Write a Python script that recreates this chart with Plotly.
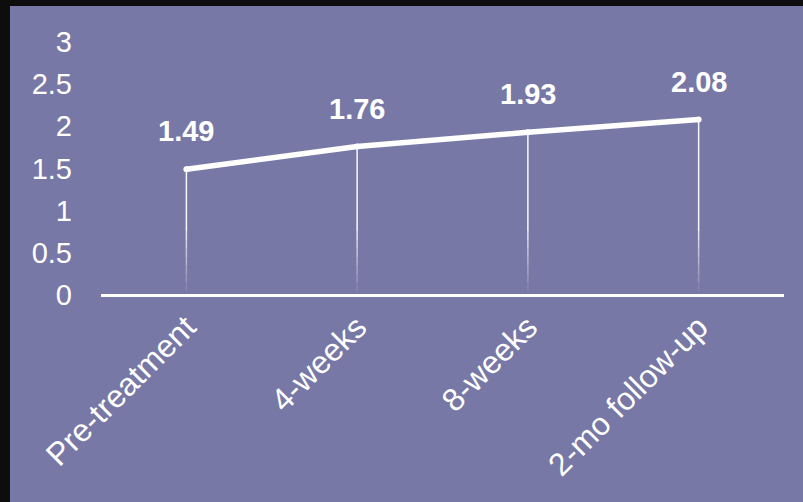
import plotly.graph_objects as go

# Mean score at each assessment point
timepoints = ["Pre-treatment", "4-weeks", "8-weeks", "2-mo follow-up"]
scores = [1.49, 1.76, 1.93, 2.08]
y_ticks = [0, 0.5, 1, 1.5, 2, 2.5, 3]
y_tick_text = ["0", "0.5", "1", "1.5", "2", "2.5", "3"]

BG = "#7878a6"
FONT = "Liberation Sans, Arial, sans-serif"

fig = go.Figure()

# Drop lines from each point to the axis, fading out near the bottom
solid_floor = 0.75
fade_steps = [0.75, 0.65, 0.55, 0.45, 0.35, 0.25, 0.15, 0.05]
xs, ys = [], []
for t, v in zip(timepoints, scores):
    xs += [t, t, None]
    ys += [v, solid_floor, None]
fig.add_trace(go.Scatter(x=xs, y=ys, mode="lines",
                         line=dict(color="rgba(255,255,255,0.95)", width=1.5),
                         hoverinfo="skip", showlegend=False))
for i in range(len(fade_steps) - 1):
    top, bot = fade_steps[i], fade_steps[i + 1]
    alpha = 0.9 * (1 - (i + 1) / len(fade_steps))
    xs, ys = [], []
    for t in timepoints:
        xs += [t, t, None]
        ys += [top, bot, None]
    fig.add_trace(go.Scatter(x=xs, y=ys, mode="lines",
                             line=dict(color=f"rgba(255,255,255,{alpha:.2f})", width=1.5),
                             hoverinfo="skip", showlegend=False))

# Main line with rounded ends
fig.add_trace(go.Scatter(x=timepoints, y=scores, mode="lines+markers",
                         line=dict(color="white", width=5.5),
                         marker=dict(color="white", size=6),
                         showlegend=False))

# Value labels above the points
for t, v in zip(timepoints, scores):
    fig.add_annotation(x=t, y=v, text=f"<b>{v:.2f}</b>", showarrow=False,
                       yshift=38, font=dict(family=FONT, size=29, color="white"))

# Dark frame strips on top and left edges
fig.add_shape(type="rect", xref="paper", yref="paper",
              x0=-0.2, x1=(10 - 101) / 683, y0=-1, y1=1.3,
              fillcolor="#0d0d0d", line_width=0, layer="below")
fig.add_shape(type="rect", xref="paper", yref="paper",
              x0=-0.2, x1=1.1, y0=(295 - 6) / 253, y1=1.3,
              fillcolor="#0d0d0d", line_width=0, layer="below")

fig.update_layout(
    width=803, height=502,
    margin=dict(l=101, r=19, t=42, b=207),
    paper_bgcolor=BG, plot_bgcolor=BG,
    font=dict(family=FONT, color="white", size=29),
    xaxis=dict(type="category", range=[-0.5, 3.5], showgrid=False,
               showline=False, zeroline=False, ticks="", tickangle=-45,
               ticklabelstandoff=6,
               tickfont=dict(size=32, color="white")),
    yaxis=dict(range=[0, 3], tickvals=y_ticks, ticktext=y_tick_text,
               showgrid=False, showline=False, zeroline=True,
               zerolinecolor="white", zerolinewidth=2.5, ticks="",
               ticklabelstandoff=28,
               tickfont=dict(size=29, color="white")),
)

fig.write_html("out.html")
